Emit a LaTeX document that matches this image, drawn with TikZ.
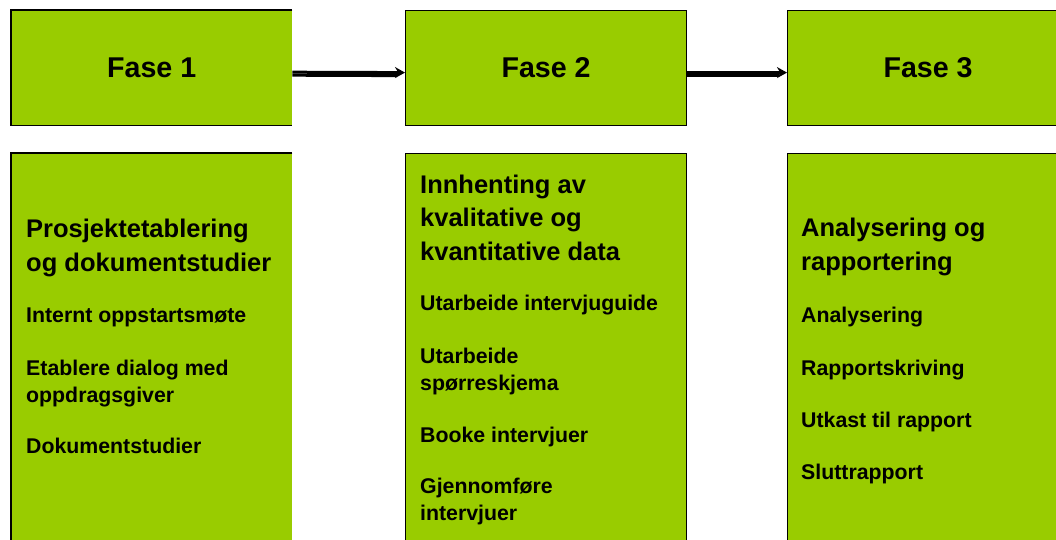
\documentclass[tikz,border=0pt]{standalone}
\usepackage{fontspec}
\setmainfont{Liberation Sans}
\usetikzlibrary{arrows.meta,positioning}
\definecolor{phase}{HTML}{99CC00}
\definecolor{shade}{HTML}{8C8C8C}
\tikzset{
  phasebox/.style={fill=phase,minimum width=281pt,inner sep=0pt,anchor=north west},
  headbox/.style={phasebox,minimum height=115pt,font=\bfseries\fontsize{28.6}{32}\selectfont},
  bodybox/.style={phasebox,minimum height=420pt},
  edged/.style={draw=black,line width=1.2pt},
  titletext/.style={anchor=base west,align=left,inner sep=0pt,font=\bfseries\fontsize{25.5}{33.5}\selectfont},
  itemtext/.style={anchor=base west,align=left,inner sep=0pt,font=\bfseries\fontsize{21.3}{27}\selectfont},
  flow/.style={line width=3pt,-{Stealth[length=10pt,width=11pt]}},
  flowshade/.style={line width=3pt,shade}
}
\begin{document}
\begin{tikzpicture}[x=1pt,y=-1pt]
\useasboundingbox (0,0) rectangle (1056,540);
\node[headbox] (h1) at (11,10) {Fase 1};
\node[headbox,edged] (h2) at (405,10) {Fase 2};
\node[headbox,edged] (h3) at (787,10) {Fase 3};
\node[bodybox] (b1) at (11,153) {};
\node[bodybox,edged] (b2) at (405,153) {};
\node[bodybox,edged] (b3) at (787,153) {};
\draw[line width=1.2pt] (h1.north east) -- (h1.north west) -- (h1.south west) -- (h1.south east);
\draw[line width=1.2pt] (b1.north east) -- (b1.north west) -- (b1.south west) -- (b1.south east);
\draw[flowshade] ([yshift=-7.5pt]h1.east) -- ([yshift=-7.5pt,xshift=-8pt]h2.west);
\draw[flow] ([yshift=-4.5pt]h1.east) -- ([yshift=-4.5pt]h2.west);
\draw[flowshade] ([yshift=-7.5pt]h2.east) -- ([yshift=-7.5pt,xshift=-8pt]h3.west);
\draw[flow] ([yshift=-4.5pt]h2.east) -- ([yshift=-4.5pt]h3.west);
\node[titletext] (t1) at (26,271) {Prosjektetablering\\og dokumentstudier};
\node[itemtext] (i11) at (26,322) {Internt oppstartsmøte};
\node[itemtext] (i12) at (26,402) {Etablere dialog med\\oppdragsgiver};
\node[itemtext] (i13) at (26,453) {Dokumentstudier};
\node[titletext] (t2) at (420,260) {Innhenting av\\kvalitative og\\kvantitative data};
\node[itemtext] (i21) at (420,310) {Utarbeide intervjuguide};
\node[itemtext] (i22) at (420,390) {Utarbeide\\spørreskjema};
\node[itemtext] (i23) at (420,442) {Booke intervjuer};
\node[itemtext] (i24) at (420,520) {Gjennomføre\\intervjuer};
\node[titletext] (t3) at (801,270) {Analysering og\\rapportering};
\node[itemtext] (i31) at (801,322) {Analysering};
\node[itemtext] (i32) at (801,375) {Rapportskriving};
\node[itemtext] (i33) at (801,427) {Utkast til rapport};
\node[itemtext] (i34) at (801,479) {Sluttrapport};
\end{tikzpicture}
\end{document}
